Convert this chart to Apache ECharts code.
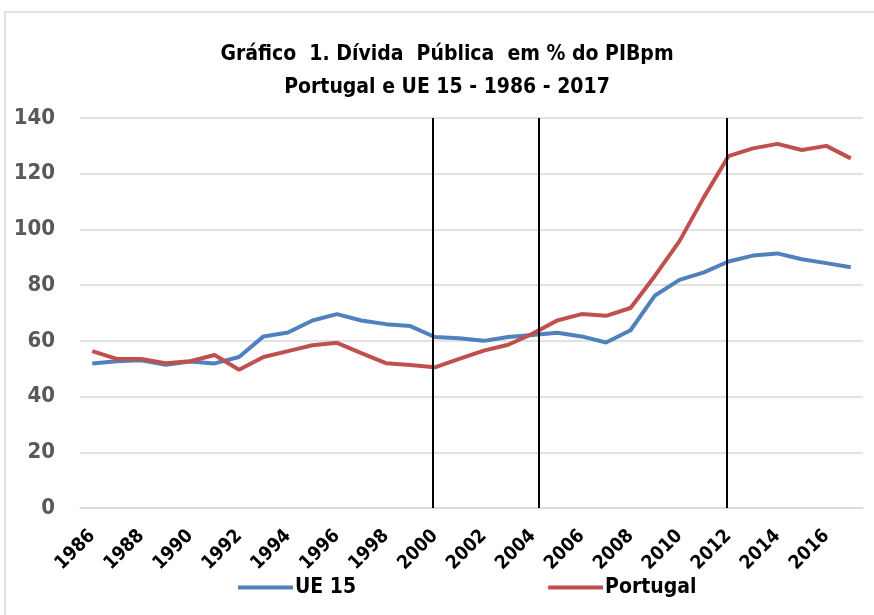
<!DOCTYPE html>
<html>
<head>
<meta charset="utf-8">
<script src="https://cdn.jsdelivr.net/npm/echarts@6/dist/echarts.min.js"></script>
<style>
  html, body { margin: 0; padding: 0; background: #fff; }
  #chart { width: 874px; height: 615px; }
</style>
</head>
<body>
<div id="chart"></div>
<script>
const years = ['1986','1987','1988','1989','1990','1991','1992','1993','1994','1995','1996','1997','1998','1999','2000','2001','2002','2003','2004','2005','2006','2007','2008','2009','2010','2011','2012','2013','2014','2015','2016','2017']
const ue15 = [51.9, 52.7, 53.0, 51.4, 52.6, 51.9, 54.2, 61.6, 63.0, 67.3, 69.6, 67.3, 66.0, 65.3, 61.4, 60.9, 60.0, 61.4, 62.1, 62.9, 61.6, 59.4, 63.8, 76.3, 81.9, 84.6, 88.5, 90.6, 91.4, 89.3, 87.9, 86.4]
const portugal = [56.3, 53.5, 53.5, 52.0, 52.7, 54.9, 49.6, 54.2, 56.3, 58.4, 59.3, 55.6, 52.0, 51.3, 50.5, 53.5, 56.5, 58.6, 62.6, 67.3, 69.6, 69.0, 71.8, 83.4, 95.8, 111.6, 126.3, 129.1, 130.7, 128.5, 130.0, 125.5]
// positions of the separator lines, in category units (0 = 1986)
const markers = [13.9, 18.25, 25.95]
const yTicks = [0, 20, 40, 60, 80, 100, 120, 140]
const titleLines = ['Gráfico  1. Dívida  Pública  em % do PIBpm', 'Portugal e UE 15 - 1986 - 2017']

const font = "'Liberation Sans Narrow', 'DejaVu Sans Condensed', 'Liberation Sans', sans-serif"

const chart = echarts.init(document.getElementById('chart'))

const option = {
  backgroundColor: '#fff',
  animation: false,
  textStyle: { fontFamily: font },
  graphic: [{
    type: 'rect',
    shape: { x: 5, y: 12, width: 900, height: 700 },
    style: { fill: 'none', stroke: '#d9d9d9', lineWidth: 1.5 },
    silent: true,
    z: -1
  }].concat(titleLines.map((t, i) => ({
    type: 'text',
    x: 447,
    y: 55 + i * 33,
    style: {
      text: t,
      align: 'center',
      verticalAlign: 'middle',
      font: 'bold 21px ' + font,
      fill: '#000'
    }
  }))),
  legend: {
    bottom: 12,
    left: 233,
    itemGap: 192,
    itemWidth: 55,
    itemHeight: 4,
    icon: 'rect',
    textStyle: { fontFamily: font, fontSize: 21, fontWeight: 'bold', color: '#000', padding: [0, 0, 0, -3] },
    data: ['UE 15', 'Portugal']
  },
  grid: { left: 80, right: 11, top: 118, bottom: 107 },
  xAxis: [{
    type: 'category',
    data: years,
    boundaryGap: true,
    axisLine: { lineStyle: { color: '#d9d9d9', width: 1.5 } },
    axisTick: { show: false },
    axisLabel: {
      interval: 1,
      rotate: 45,
      margin: 25,
      color: '#000',
      fontFamily: font,
      fontSize: 19,
      fontWeight: 'bold'
    }
  }, {
    type: 'value',
    min: -0.5,
    max: 31.5,
    show: false
  }],
  yAxis: {
    type: 'value',
    min: 0,
    max: 140,
    interval: 20,
    axisLine: { show: false },
    axisTick: { show: false },
    splitLine: { lineStyle: { color: '#d9d9d9', width: 1.5 } },
    axisLabel: {
      margin: 25,
      color: '#595959',
      fontFamily: font,
      fontSize: 22,
      fontWeight: 'bold',
      formatter: v => yTicks.includes(v) ? String(v) : ''
    }
  },
  series: [
    {
      name: 'UE 15',
      type: 'line',
      data: ue15,
      color: '#4f81bd',
      symbol: 'none',
      lineStyle: { width: 4, color: '#4f81bd' }
    },
    {
      name: 'Portugal',
      type: 'line',
      data: portugal,
      color: '#c0504d',
      symbol: 'none',
      lineStyle: { width: 4, color: '#c0504d' }
    },
    {
      name: 'marcas',
      type: 'line',
      xAxisIndex: 1,
      data: [],
      markLine: {
        silent: true,
        symbol: 'none',
        label: { show: false },
        lineStyle: { color: '#000', width: 2, type: 'solid' },
        data: markers.map(m => ({ xAxis: m }))
      }
    }
  ]
}

chart.setOption(option)
</script>
</body>
</html>
